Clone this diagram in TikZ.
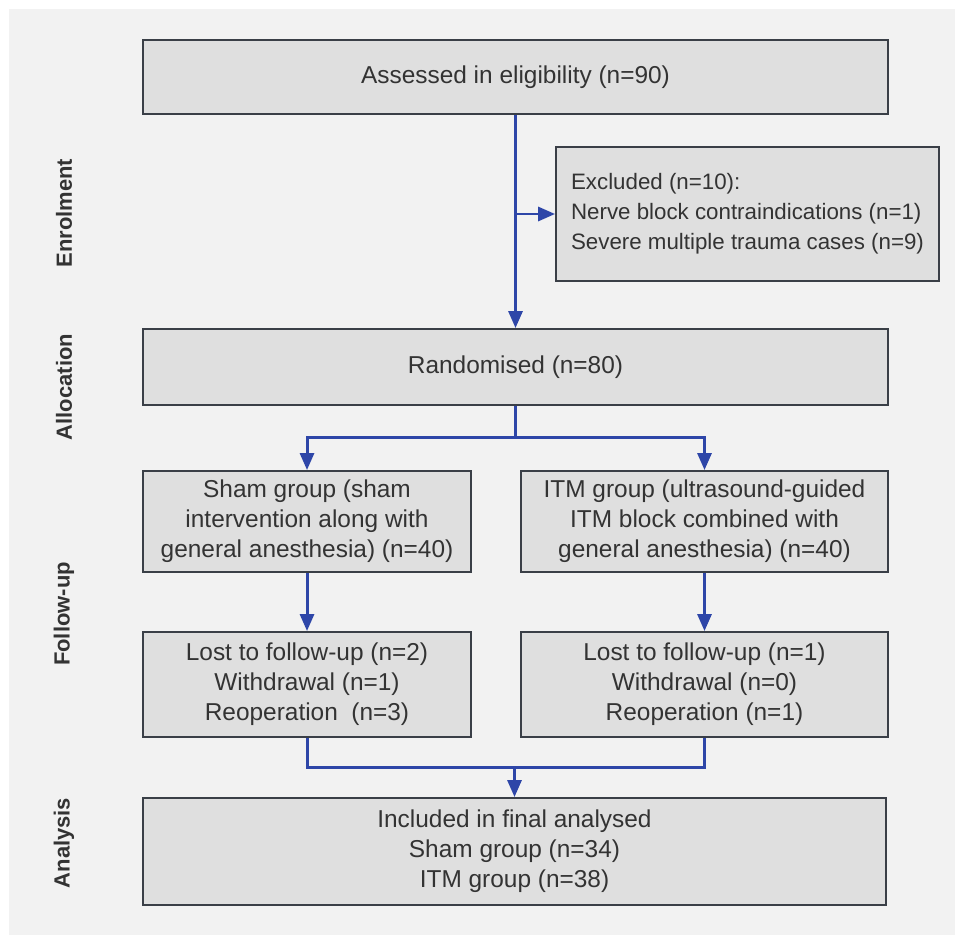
\documentclass[tikz,border=0pt]{standalone}
\usepackage{fontspec}
\setmainfont{Liberation Sans}
\usetikzlibrary{arrows.meta}
\usetikzlibrary{positioning}

\definecolor{panelgray}{HTML}{F2F2F2}
\definecolor{boxgray}{HTML}{DFDFDF}
\definecolor{edgegray}{HTML}{3A3F47}
\definecolor{flowblue}{HTML}{2E46A8}
\definecolor{inkgray}{HTML}{333333}

\begin{document}
\begin{tikzpicture}[x=0.02cm, y=-0.02cm,
box/.style={draw=edgegray, line width=1.1pt, fill=boxgray, text=inkgray,
  font=\fontsize{13.9}{17}\selectfont, align=center, inner sep=0pt},
flow/.style={draw=flowblue, line width=1.7pt, -{Triangle[width=0.28cm, length=0.34cm]}},
link/.style={draw=flowblue, line width=1.7pt},
stage/.style={rotate=90, text=inkgray, font=\fontsize{12.5}{15}\selectfont\bfseries}]
\useasboundingbox (0,0) rectangle (955,935);
\fill[white] (0,0) rectangle (955,935);
\fill[panelgray] (9,9) rectangle (955,935);

% stages
\node[stage] (enrol) at (64,213) {Enrolment};
\node[stage] (alloc) at (64,387) {Allocation};
\node[stage] (follow) at (64,614) {Follow-up};
\node[stage] (analys) at (64,843) {Analysis};

% boxes
\node[box, minimum width=14.9cm, minimum height=1.48cm] (assess) at (515.5,77) {Assessed in eligibility (n=90)};
\node[box, minimum width=7.66cm, minimum height=2.68cm, align=left, font=\fontsize{12.7}{17}\selectfont] (excl) at (747.5,214)
  {Excluded (n=10):\\Nerve block contraindications (n=1)\\Severe multiple trauma cases (n=9)};
\node[box, minimum width=14.9cm, minimum height=1.52cm] (rand) at (515.5,367) {Randomised (n=80)};
\node[box, minimum width=6.56cm, minimum height=2.02cm] (sham) at (307,521.5)
  {Sham group (sham\\intervention along with\\general anesthesia) (n=40)};
\node[box, minimum width=7.34cm, minimum height=2.02cm] (itm) at (704.5,521.5)
  {ITM group (ultrasound-guided\\ITM block combined with\\general anesthesia) (n=40)};
\node[box, minimum width=6.56cm, minimum height=2.1cm] (lostsham) at (307,684.5)
  {Lost to follow-up (n=2)\\Withdrawal (n=1)\\Reoperation~~(n=3)};
\node[box, minimum width=7.34cm, minimum height=2.1cm] (lostitm) at (704.5,684.5)
  {Lost to follow-up (n=1)\\Withdrawal (n=0)\\Reoperation (n=1)};
\node[box, minimum width=14.86cm, minimum height=2.14cm] (incl) at (514.5,851.5)
  {Included in final analysed\\Sham group (n=34)\\ITM group (n=38)};

% connectors
\draw[flow] (assess) -- (rand);
\draw[flow] (assess.south |- excl.west) -- (excl.west);
\path (rand.south) ++(0,32) coordinate (split);
\draw[link] (rand.south) -- (split);
\draw[flow] (split) -| (sham.north);
\draw[flow] (split) -| (itm.north);
\draw[flow] (sham) -- (lostsham);
\draw[flow] (itm) -- (lostitm);
\path (incl.north) ++(0,-30) coordinate (merge);
\draw[link] (lostsham.south) |- (merge) -| (lostitm.south);
\draw[flow] (merge) -- (incl.north);
\end{tikzpicture}
\end{document}
